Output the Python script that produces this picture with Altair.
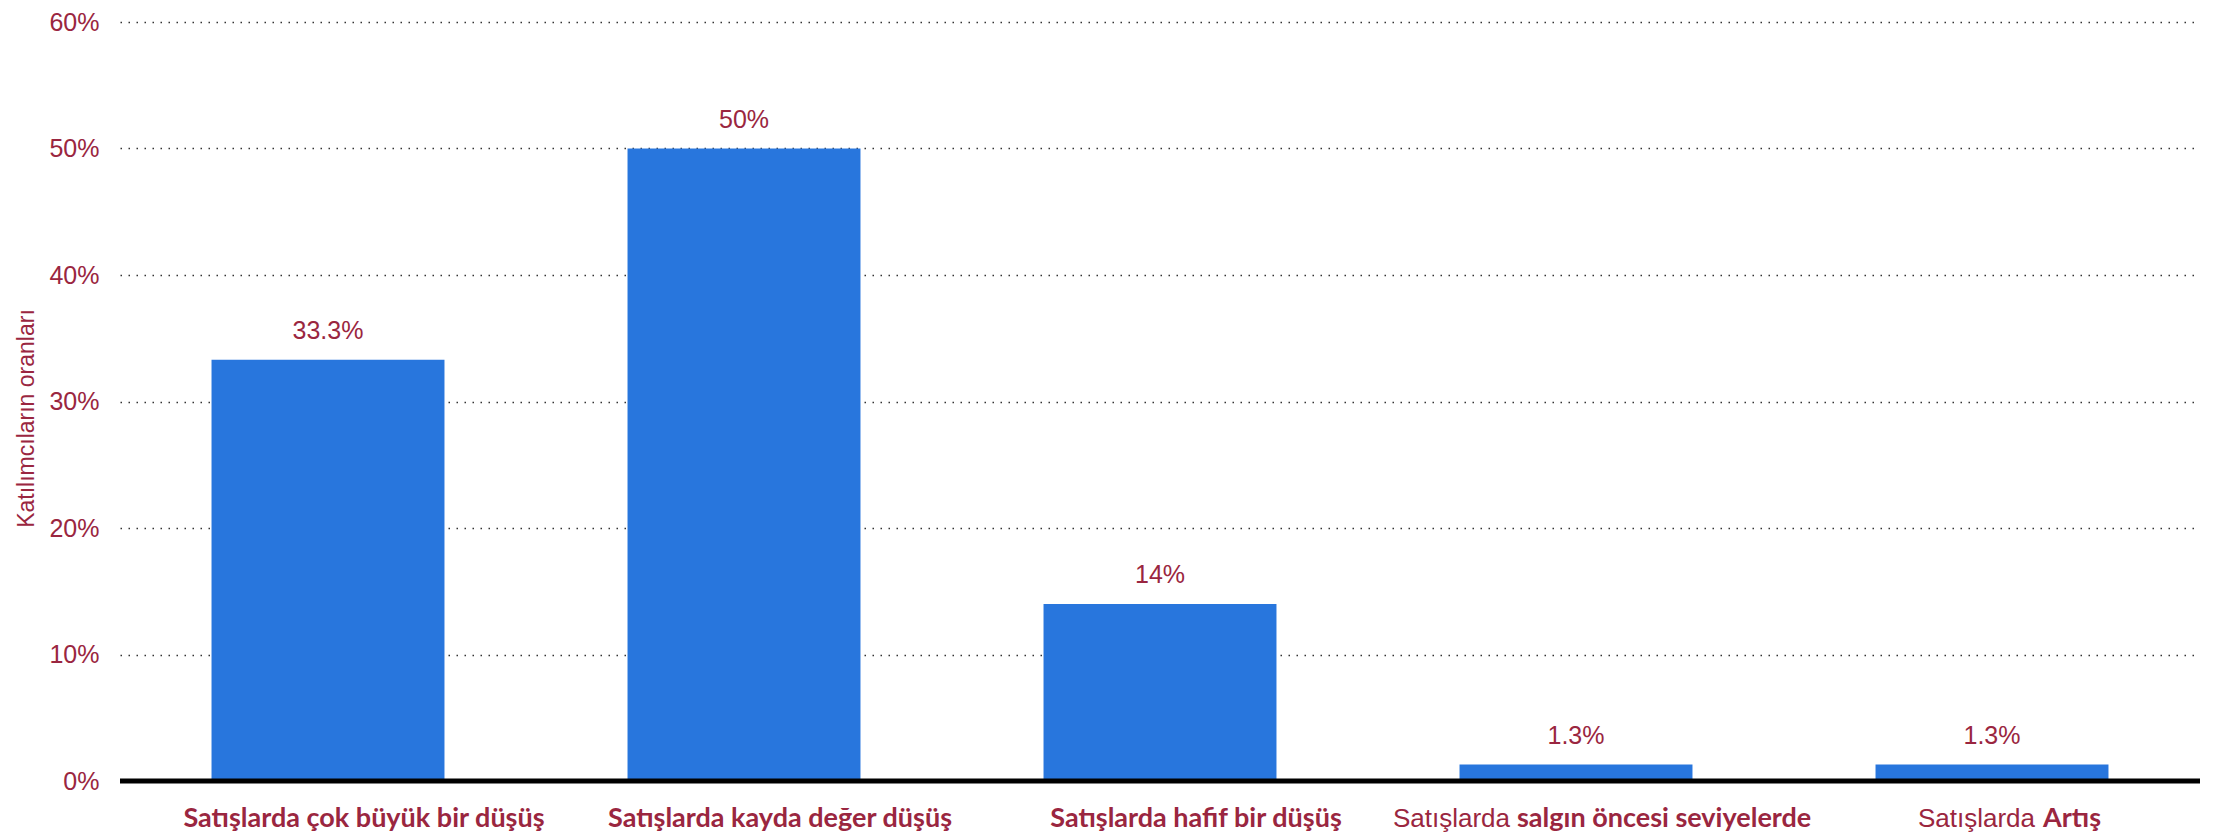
import altair as alt
import pandas as pd

categories = [
    "Satışlarda çok büyük bir düşüş",
    "Satışlarda kayda değer düşüş",
    "Satışlarda hafif bir düşüş",
    "Satışlarda salgın öncesi seviyelerde",
    "Satışlarda Artış",
]
values = [33.3, 50, 14, 1.3, 1.3]
value_labels = ["33.3%", "50%", "14%", "1.3%", "1.3%"]
label_normal = ["", "", "", "Satışlarda", "Satışlarda"]
label_bold = [
    "Satışlarda çok büyük bir düşüş",
    "Satışlarda kayda değer düşüş",
    "Satışlarda hafif bir düşüş",
    "salgın öncesi seviyelerde",
    "Artış",
]
y_ticks = [0, 10, 20, 30, 40, 50, 60]
y_title = "Katılımcıların oranları"

RED = "#9a2640"
BLUE = "#2876dd"
SANS = "Liberation Sans"
BOLDF = "Lato"

df = pd.DataFrame({
    "cat": categories,
    "value": values,
    "vlabel": value_labels,
    "normal": label_normal,
    "bold": label_bold,
})

x = alt.X("cat:N", sort=categories,
          scale=alt.Scale(paddingInner=0.44, paddingOuter=0.22),
          axis=alt.Axis(labels=False, ticks=False, domain=False, title=None, grid=False))
y = alt.Y("value:Q",
          scale=alt.Scale(domain=[0, 60], nice=False),
          axis=alt.Axis(values=y_ticks, labelExpr="datum.value + '%'",
                        labelFont=SANS, labelFontSize=25, labelColor=RED,
                        labelPadding=21, ticks=False, domain=False,
                        grid=True, gridColor="#333333", gridDash=[1.5, 6.5],
                        gridWidth=1.3,
                        title=y_title, titleFont=SANS, titleFontSize=23,
                        titleFontWeight="normal", titleColor=RED,
                        titleAngle=-90, titleX=-94, titleY=396,
                        titleAlign="center", titleBaseline="middle"))

base = alt.Chart(df)

bars = base.mark_bar(color=BLUE).encode(x=x, y=y)

bar_text = base.mark_text(font=SANS, fontSize=25, color=RED,
                          baseline="alphabetic", dy=-21).encode(
    x=alt.X("cat:N", sort=categories), y="value:Q", text="vlabel:N")

zero = alt.Chart(pd.DataFrame({"z": [0]})).mark_rule(
    color="black", strokeWidth=5).encode(y=alt.Y("z:Q"))

full_bold = base.transform_filter("datum.normal == ''").mark_text(
    font=BOLDF, fontWeight="bold", fontSize=27, color=RED,
    align="center", baseline="alphabetic", dx=36, dy=46).encode(
    x=alt.X("cat:N", sort=categories), y=alt.datum(0), text="bold:N")

def split_layers(idx, dx_normal, dx_bold):
    sub = base.transform_filter(alt.datum.cat == categories[idx])
    n = sub.mark_text(font=SANS, fontSize=26, color=RED, align="right",
                      baseline="alphabetic", dx=dx_normal, dy=46).encode(
        x=alt.X("cat:N", sort=categories), y=alt.datum(0), text="normal:N")
    b = sub.mark_text(font=BOLDF, fontWeight="bold", fontSize=27, color=RED,
                      align="left", baseline="alphabetic", dx=dx_bold, dy=46).encode(
        x=alt.X("cat:N", sort=categories), y=alt.datum(0), text="bold:N")
    return n + b

chart = alt.layer(
    bars, zero, bar_text, full_bold,
    split_layers(3, -66, -59),
    split_layers(4, 43, 51),
).properties(
    width=2080, height=759,
    background="white",
    autosize=alt.AutoSizeParams(type="none"),
    padding={"left": 112, "top": 14, "right": 10, "bottom": 55},
).configure_view(strokeWidth=0, stroke="transparent")

chart.save("out.html", embed_options={"renderer": "svg", "actions": False})
